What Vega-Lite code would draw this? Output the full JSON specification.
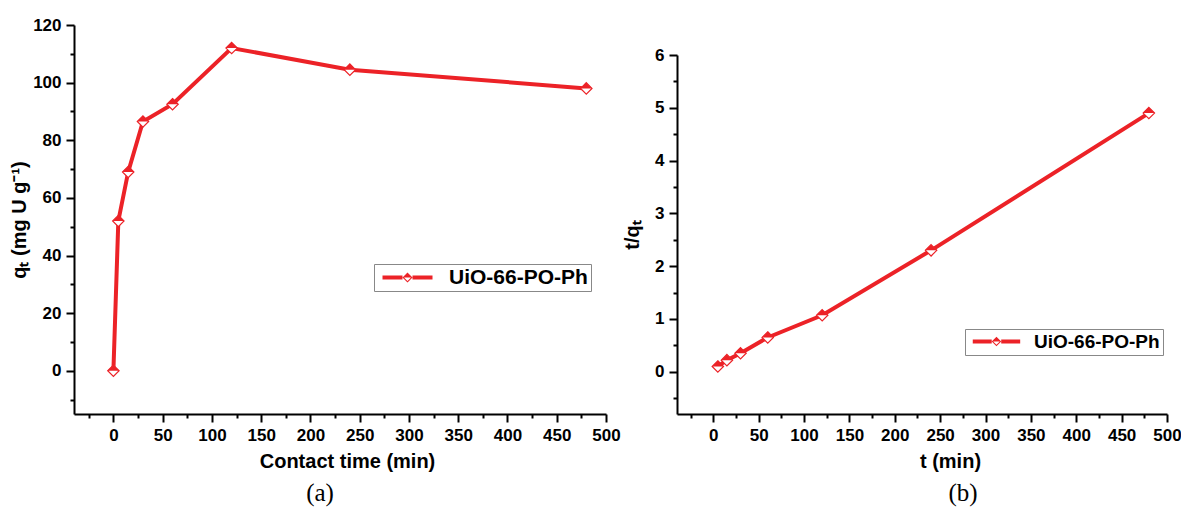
{
  "$schema": "https://vega.github.io/schema/vega-lite/v6.json",
  "autosize": {"type": "pad"},
  "padding": {"left": 9, "top": 16, "right": 0, "bottom": 5},
  "bounds": "flush",
  "spacing": 71,
  "background": "white",
  "resolve": {"scale": {"color": "independent"}, "legend": {"color": "independent"}},
  "config": {
    "view": {"stroke": null},
    "axis": {
      "grid": false,
      "domainColor": "black",
      "domainWidth": 2,
      "tickColor": "black",
      "tickWidth": 2,
      "labelFont": "Liberation Sans",
      "labelFontWeight": "bold",
      "labelFontSize": 17,
      "labelColor": "black",
      "labelPadding": 5,
      "titleFont": "Liberation Sans",
      "titleFontWeight": "bold",
      "titleFontSize": 20,
      "titleColor": "black",
      "labelFlush": false,
      "labelOverlap": false
    },
    "title": {"font": "Liberation Serif", "fontWeight": "normal", "fontSize": 25, "color": "black"}
  },
  "datasets": {
    "a": [
      {"t": 0, "qt": 0, "series": "UiO-66-PO-Ph"},
      {"t": 5, "qt": 52, "series": "UiO-66-PO-Ph"},
      {"t": 15, "qt": 69, "series": "UiO-66-PO-Ph"},
      {"t": 30, "qt": 86.5, "series": "UiO-66-PO-Ph"},
      {"t": 60, "qt": 92.5, "series": "UiO-66-PO-Ph"},
      {"t": 120, "qt": 112, "series": "UiO-66-PO-Ph"},
      {"t": 240, "qt": 104.5, "series": "UiO-66-PO-Ph"},
      {"t": 480, "qt": 98, "series": "UiO-66-PO-Ph"}
    ],
    "b": [
      {"t": 5, "tq": 0.1, "series": "UiO-66-PO-Ph"},
      {"t": 15, "tq": 0.22, "series": "UiO-66-PO-Ph"},
      {"t": 30, "tq": 0.35, "series": "UiO-66-PO-Ph"},
      {"t": 60, "tq": 0.65, "series": "UiO-66-PO-Ph"},
      {"t": 120, "tq": 1.07, "series": "UiO-66-PO-Ph"},
      {"t": 240, "tq": 2.3, "series": "UiO-66-PO-Ph"},
      {"t": 480, "tq": 4.9, "series": "UiO-66-PO-Ph"}
    ]
  },
  "hconcat": [
    {
      "width": 532,
      "height": 389,
      "data": {"name": "a"},
      "title": {"text": "(a)", "orient": "bottom", "dx": -20, "offset": 10},
      "encoding": {
        "x": {
          "field": "t", "type": "quantitative",
          "scale": {"domain": [-40, 500], "nice": false, "zero": false},
          "axis": {
            "title": "Contact time (min)",
            "titleX": 273,
            "titlePadding": 8,
            "values": [-25, 0, 25, 50, 75, 100, 125, 150, 175, 200, 225, 250, 275, 300, 325, 350, 375, 400, 425, 450, 475, 500],
            "labelExpr": "datum.value % 50 === 0 ? datum.label : ''",
            "tickSize": {"condition": {"test": "datum.value % 50 === 0", "value": 8}, "value": 4}
          }
        },
        "y": {
          "field": "qt", "type": "quantitative",
          "scale": {"domain": [-15, 120], "nice": false, "zero": false},
          "axis": {
            "title": "qₜ (mg U g⁻¹)",
            "titlePadding": 3,
            "values": [-10, 0, 10, 20, 30, 40, 50, 60, 70, 80, 90, 100, 110, 120],
            "labelExpr": "datum.value % 20 === 0 ? datum.label : ''",
            "tickSize": {"condition": {"test": "datum.value % 20 === 0", "value": 8}, "value": 4}
          }
        }
      },
      "layer": [
        {
          "mark": {"type": "line", "strokeWidth": 4, "color": "#ec2227"},
          "encoding": {}
        },
        {
          "mark": {"type": "point", "shape": "M0,-1L1,0L0,1L-1,0Z", "size": 130, "filled": true, "fill": "white", "stroke": "#ec2227", "strokeWidth": 1.2, "opacity": 1}
        },
        {
          "mark": {"type": "point", "shape": "M-1,0L0,-1L1,0Z", "size": 130, "filled": true, "strokeWidth": 0, "opacity": 1},
          "encoding": {
            "color": {
              "field": "series", "type": "nominal",
              "scale": {"domain": ["UiO-66-PO-Ph"], "range": ["#ec2227"]},
              "legend": {
                "orient": "none", "legendX": 300, "legendY": 239,
                "title": null,
                "symbolType": "M-1,-0.4L3,-0.4L3,0.4L-1,0.4ZM5,-0.4L9,-0.4L9,0.4L5,0.4ZM3,0L4,-1L5,0ZM3,0L4,1L5,0L4.7,0L4,0.7L3.3,0Z",
                "symbolSize": 100,
                "symbolStrokeWidth": 0,
                "symbolFillColor": "#ec2227",
                "symbolOpacity": 1,
                "labelFont": "Liberation Sans",
                "labelFontWeight": "bold",
                "labelFontSize": 21,
                "labelColor": "black",
                "labelOffset": 51,
                "strokeColor": "#888888",
                "padding": 3
              }
            }
          }
        }
      ]
    },
    {
      "width": 490,
      "height": 389,
      "data": {"name": "b"},
      "title": {"text": "(b)", "orient": "bottom", "dx": 41, "offset": 10},
      "encoding": {
        "x": {
          "field": "t", "type": "quantitative",
          "scale": {"domain": [-40, 500], "nice": false, "zero": false},
          "axis": {
            "title": "t (min)",
            "titleX": 273,
            "titlePadding": 8,
            "values": [-25, 0, 25, 50, 75, 100, 125, 150, 175, 200, 225, 250, 275, 300, 325, 350, 375, 400, 425, 450, 475, 500],
            "labelExpr": "datum.value % 50 === 0 ? datum.label : ''",
            "tickSize": {"condition": {"test": "datum.value % 50 === 0", "value": 8}, "value": 4}
          }
        },
        "y": {
          "field": "tq", "type": "quantitative",
          "scale": {"domain": [-0.8, 6], "nice": false, "zero": false, "range": [389, 30]},
          "axis": {
            "title": "t/qₜ",
            "titlePadding": 12,
            "values": [-0.5, 0, 0.5, 1, 1.5, 2, 2.5, 3, 3.5, 4, 4.5, 5, 5.5, 6],
            "labelExpr": "datum.value % 1 === 0 ? format(datum.value, 'd') : ''",
            "tickSize": {"condition": {"test": "datum.value % 1 === 0", "value": 8}, "value": 4}
          }
        }
      },
      "layer": [
        {
          "mark": {"type": "line", "strokeWidth": 4, "color": "#ec2227"},
          "encoding": {}
        },
        {
          "mark": {"type": "point", "shape": "M0,-1L1,0L0,1L-1,0Z", "size": 130, "filled": true, "fill": "white", "stroke": "#ec2227", "strokeWidth": 1.2, "opacity": 1}
        },
        {
          "mark": {"type": "point", "shape": "M-1,0L0,-1L1,0Z", "size": 130, "filled": true, "strokeWidth": 0, "opacity": 1},
          "encoding": {
            "color": {
              "field": "series", "type": "nominal",
              "scale": {"domain": ["UiO-66-PO-Ph"], "range": ["#ec2227"]},
              "legend": {
                "orient": "none", "legendX": 288, "legendY": 304,
                "title": null,
                "symbolType": "M-1,-0.4L3,-0.4L3,0.4L-1,0.4ZM5,-0.4L9,-0.4L9,0.4L5,0.4ZM3,0L4,-1L5,0ZM3,0L4,1L5,0L4.7,0L4,0.7L3.3,0Z",
                "symbolSize": 90,
                "symbolStrokeWidth": 0,
                "symbolFillColor": "#ec2227",
                "symbolOpacity": 1,
                "labelFont": "Liberation Sans",
                "labelFontWeight": "bold",
                "labelFontSize": 19,
                "labelColor": "black",
                "labelOffset": 47,
                "strokeColor": "#888888",
                "padding": 3
              }
            }
          }
        }
      ]
    }
  ]
}
